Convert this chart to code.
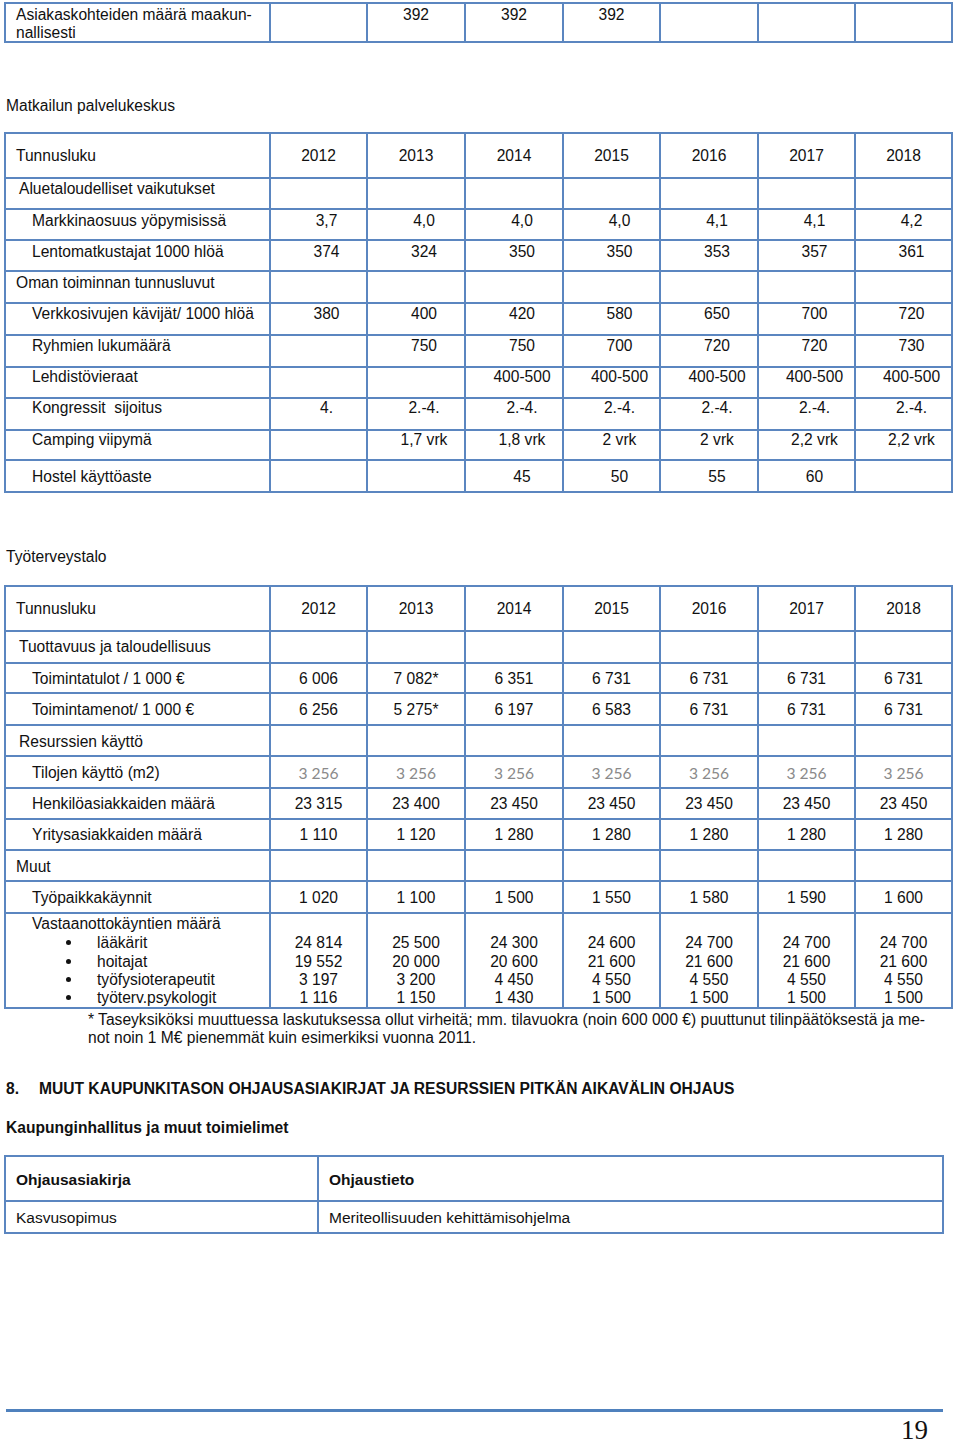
<!DOCTYPE html>
<html lang="fi">
<head>
<meta charset="utf-8">
<script src="https://cdn.jsdelivr.net/npm/chart.js@4/dist/chart.umd.min.js"></script>
<style>
  html, body { margin:0; padding:0; background:#fff; }
  body { width:960px; height:1443px; position:relative; overflow:hidden;
         font-family:"Liberation Sans", Arial, sans-serif; font-size:15.6px; color:#111; }
  .t { position:absolute; white-space:pre; line-height:18px; height:18px; }
  .ln { position:absolute; background:#5B86C0; }
</style>
</head>
<body>
<script>
// ---------- DATA ----------
const years = ['2012','2013','2014','2015','2016','2017','2018'];

// Top (partial) table
const asiakasLabel = ['Asiakaskohteiden määrä maakun-', 'nallisesti'];
const asiakasValues = ['', '392', '392', '392', '', '', ''];

// Matkailun palvelukeskus
const matkailuTitle = 'Matkailun palvelukeskus';
const markkinaosuus = ['3,7','4,0','4,0','4,0','4,1','4,1','4,2'];
const lentomatkustajat = ['374','324','350','350','353','357','361'];
const verkkosivut = ['380','400','420','580','650','700','720'];
const ryhmat = ['','750','750','700','720','720','730'];
const lehdisto = ['','','400-500','400-500','400-500','400-500','400-500'];
const kongressit = ['4.','2.-4.','2.-4.','2.-4.','2.-4.','2.-4.','2.-4.'];
const camping = ['','1,7 vrk','1,8 vrk','2 vrk','2 vrk','2,2 vrk','2,2 vrk'];
const hostel = ['','','45','50','55','60',''];

// Työterveystalo
const tyoTitle = 'Työterveystalo';
const toimintatulot = ['6 006','7 082*','6 351','6 731','6 731','6 731','6 731'];
const toimintamenot = ['6 256','5 275*','6 197','6 583','6 731','6 731','6 731'];
const tilat = ['3 256','3 256','3 256','3 256','3 256','3 256','3 256'];
const henkiloasiakkaat = ['23 315','23 400','23 450','23 450','23 450','23 450','23 450'];
const yritysasiakkaat = ['1 110','1 120','1 280','1 280','1 280','1 280','1 280'];
const tyopaikkakaynnit = ['1 020','1 100','1 500','1 550','1 580','1 590','1 600'];
const laakarit = ['24 814','25 500','24 300','24 600','24 700','24 700','24 700'];
const hoitajat = ['19 552','20 000','20 600','21 600','21 600','21 600','21 600'];
const fysioterapeutit = ['3 197','3 200','4 450','4 550','4 550','4 550','4 550'];
const psykologit = ['1 116','1 150','1 430','1 500','1 500','1 500','1 500'];
const vastaanottoLabels = ['lääkärit','hoitajat','työfysioterapeutit','työterv.psykologit'];
const footnote = ['* Taseyksiköksi muuttuessa laskutuksessa ollut virheitä; mm. tilavuokra (noin 600 000 €) puuttunut tilinpäätöksestä ja me-',
                  'not noin 1 M€ pienemmät kuin esimerkiksi vuonna 2011.'];

// Section 8
const sectionNo = '8.';
const sectionTitle = 'MUUT KAUPUNKITASON OHJAUSASIAKIRJAT JA RESURSSIEN PITKÄN AIKAVÄLIN OHJAUS';
const subTitle = 'Kaupunginhallitus ja muut toimielimet';
const ohjausHeader = ['Ohjausasiakirja', 'Ohjaustieto'];
const ohjausRow = ['Kasvusopimus', 'Meriteollisuuden kehittämisohjelma'];
const pageNumber = '19';

// ---------- LAYOUT / DRAW ----------
const B = document.body;
function el(cls, css, txt) {
  const d = document.createElement('div');
  d.className = cls;
  Object.assign(d.style, css);
  if (txt !== undefined) d.textContent = txt;
  B.appendChild(d);
  return d;
}
function text(str, x, cy, o = {}) {
  if (!str) return;
  const css = { top: (cy - 8) + 'px' };
  if (o.align === 'center') { css.left = (x - 100) + 'px'; css.width = '200px'; css.textAlign = 'center'; }
  else css.left = x + 'px';
  if (o.bold) css.fontWeight = 'bold';
  if (o.color) css.color = o.color;
  if (o.font) css.fontFamily = o.font;
  if (o.size) css.fontSize = o.size + 'px';
  el('t', css, str);
}
function grid(cols, rows) {
  const x0 = cols[0], x1 = cols[cols.length - 1], y0 = rows[0], y1 = rows[rows.length - 1];
  rows.forEach(y => el('ln', { left: (x0 - 1) + 'px', top: (y - 1) + 'px', width: (x1 - x0 + 2) + 'px', height: '2px' }));
  cols.forEach(x => el('ln', { left: (x - 1) + 'px', top: (y0 - 1) + 'px', width: '2px', height: (y1 - y0 + 2) + 'px' }));
}
const cols = [5, 270, 367, 465, 563, 660, 758, 855, 952];
const colCenter = i => (cols[i + 1] + cols[i + 2]) / 2;

// Top partial table
grid(cols, [3, 42]);
text(asiakasLabel[0], 16, 14);
text(asiakasLabel[1], 16, 32);
asiakasValues.forEach((v, i) => text(v, colCenter(i), 14, { align: 'center' }));

// Matkailu
text(matkailuTitle, 6, 105);
const mRows = [133, 178, 209, 240, 271, 303, 335, 367, 398, 430, 460, 492];
grid(cols, mRows);
text('Tunnusluku', 16, 155);
years.forEach((y, i) => text(y, colCenter(i), 155, { align: 'center' }));
const mData = [
  ['Aluetaloudelliset vaikutukset', 19, null, 188],
  ['Markkinaosuus yöpymisissä', 32, markkinaosuus, 220],
  ['Lentomatkustajat 1000 hlöä', 32, lentomatkustajat, 251],
  ['Oman toiminnan tunnusluvut', 16, null, 282],
  ['Verkkosivujen kävijät/ 1000 hlöä', 32, verkkosivut, 313],
  ['Ryhmien lukumäärä', 32, ryhmat, 345],
  ['Lehdistövieraat', 32, lehdisto, 376],
  ['Kongressit  sijoitus', 32, kongressit, 407],
  ['Camping viipymä', 32, camping, 439],
  ['Hostel käyttöaste', 32, hostel, 476]
];
mData.forEach(([lab, x, vals, cy]) => {
  text(lab, x, cy);
  if (vals) vals.forEach((v, i) => text(v, colCenter(i) + 8, cy, { align: 'center' }));
});

// Työterveystalo
text(tyoTitle, 6, 556);
const tRows = [586, 631, 663, 693, 725, 756, 788, 819, 850, 881, 913, 1008];
grid(cols, tRows);
text('Tunnusluku', 16, 608);
years.forEach((y, i) => text(y, colCenter(i), 608, { align: 'center' }));
const tData = [
  ['Tuottavuus ja taloudellisuus', 19, null, 646],
  ['Toimintatulot / 1 000 €', 32, toimintatulot, 678],
  ['Toimintamenot/ 1 000 €', 32, toimintamenot, 709],
  ['Resurssien käyttö', 19, null, 741],
  ['Tilojen käyttö (m2)', 32, tilat, 772, { color: '#8a8a8a', font: 'Lato, "Open Sans", sans-serif' }],
  ['Henkilöasiakkaiden määrä', 32, henkiloasiakkaat, 803],
  ['Yritysasiakkaiden määrä', 32, yritysasiakkaat, 834],
  ['Muut', 16, null, 866],
  ['Työpaikkakäynnit', 32, tyopaikkakaynnit, 897]
];
tData.forEach(([lab, x, vals, cy, o]) => {
  text(lab, x, cy);
  if (vals) vals.forEach((v, i) => text(v, colCenter(i), cy, Object.assign({ align: 'center' }, o || {})));
});
text('Vastaanottokäyntien määrä', 32, 923);
const vLines = [942, 961, 979, 997];
[laakarit, hoitajat, fysioterapeutit, psykologit].forEach((vals, k) => {
  const cy = vLines[k];
  el('ln', { left: '66px', top: (cy - 2) + 'px', width: '5px', height: '5px', borderRadius: '50%', background: '#111' });
  text(vastaanottoLabels[k], 97, cy);
  vals.forEach((v, i) => text(v, colCenter(i), cy, { align: 'center' }));
});
// footnote
el('t', { left: '88px', top: '1011px', width: '839px', whiteSpace: 'nowrap' }, footnote[0]);
text(footnote[1], 88, 1037);

// Section 8
text(sectionNo, 6, 1088, { bold: true });
text(sectionTitle, 39, 1088, { bold: true });
text(subTitle, 6, 1127, { bold: true });
grid([5, 318, 943], [1156, 1201, 1233]);
const narrow = '"Liberation Sans Narrow", "Arial Narrow", "Liberation Sans", sans-serif';
text(ohjausHeader[0], 16, 1179, { bold: true, font: narrow, size: 15.5 });
text(ohjausHeader[1], 329, 1179, { bold: true, font: narrow, size: 15.5 });
text(ohjausRow[0], 16, 1217, { font: narrow, size: 15.5 });
text(ohjausRow[1], 329, 1217, { font: narrow, size: 15.5 });

// footer
el('ln', { left: '6px', top: '1409px', width: '937px', height: '3px', background: '#4F81BD' });
el('t', { left: '878px', top: '1413px', width: '50px', textAlign: 'right', height: '34px', lineHeight: '34px',
          fontFamily: '"Liberation Serif", "DejaVu Serif", serif', fontSize: '27px' }, pageNumber);
</script>
</body>
</html>
